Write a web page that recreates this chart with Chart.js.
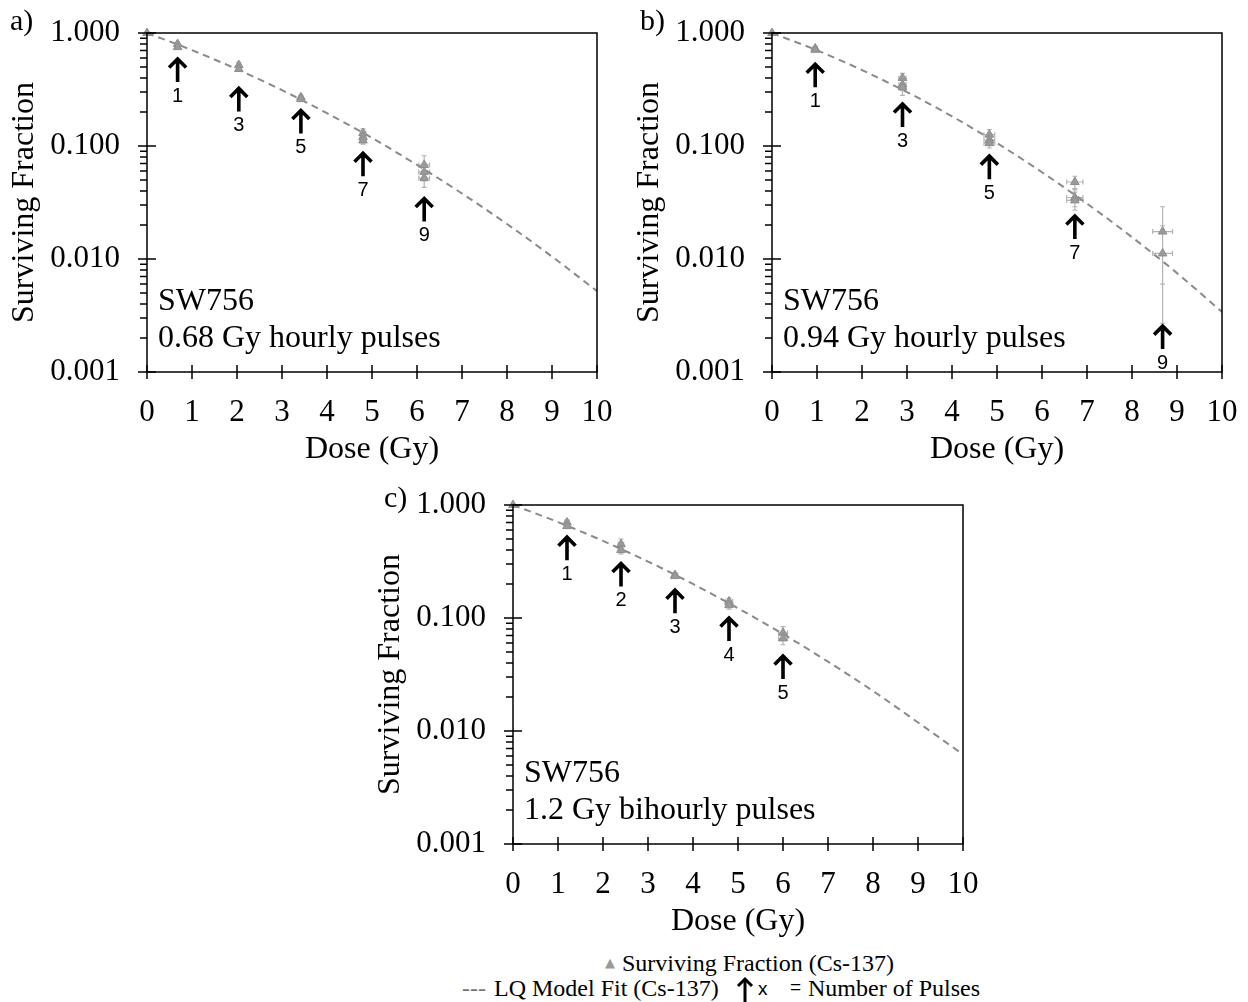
<!DOCTYPE html>
<html>
<head>
<meta charset="utf-8">
<script src="https://cdn.jsdelivr.net/npm/chart.js@4.4.1/dist/chart.umd.min.js"></script>
<style>
    body { margin: 0; background: #fff; width: 1248px; height: 1002px; position: relative; overflow: hidden;
           font-family: "Liberation Serif", "Times New Roman", serif; color: #000; }
    .panel { position: absolute; }
    .tag { position: absolute; font-size: 30px; line-height: 30px; }
    .lg { position: absolute; font-size: 24px; line-height: 28px; white-space: nowrap; }
</style>
</head>
<body>
<div class="panel" style="left:0;top:0"><canvas id="chartA" width="620" height="470"></canvas></div>
<div class="panel" style="left:625px;top:0"><canvas id="chartB" width="620" height="470"></canvas></div>
<div class="panel" style="left:366px;top:472px"><canvas id="chartC" width="620" height="470"></canvas></div>
<div class="tag" style="left:10px;top:5px">a)</div>
<div class="tag" style="left:640px;top:5px">b)</div>
<div class="tag" style="left:384px;top:482px">c)</div>

<!-- legend -->
<div class="lg" style="left:605px;top:949px;font-family:'DejaVu Sans';font-size:13px;color:#9a9a9a">▲</div>
<div class="lg" style="left:622px;top:949px">Surviving Fraction (Cs-137)</div>
<div class="lg" style="left:462px;top:974px;color:#777">---</div>
<div class="lg" style="left:494px;top:974px">LQ Model Fit (Cs-137)</div>
<svg class="lg" style="left:735px;top:976px" width="20" height="26" viewBox="0 0 20 26">
    <polyline points="3,10 10,3 17,10" fill="none" stroke="#000" stroke-width="3"/>
    <line x1="10" y1="3" x2="10" y2="26" stroke="#000" stroke-width="3"/>
</svg>
<div class="lg" style="left:758px;top:975px;font-family:'Liberation Sans';font-size:19px">x</div>
<div class="lg" style="left:790px;top:973px;font-family:'Liberation Sans';font-size:19px">=</div>
<div class="lg" style="left:808px;top:974px">Number of Pulses</div>

<script>
// axes
const xTicks = [0, 1, 2, 3, 4, 5, 6, 7, 8, 9, 10];
const yTickValues = [0.001, 0.01, 0.1, 1];
const yTickLabels = ['0.001', '0.010', '0.100', '1.000'];

// LQ model fit curves, read at whole Gy
const fitDose = [0, 1, 2, 3, 4, 5, 6, 7, 8, 9, 10];
const fitA = [1, 0.705, 0.478, 0.312, 0.195, 0.118, 0.068, 0.038, 0.0204, 0.0105, 0.0052];
const fitB = [1, 0.702, 0.470, 0.300, 0.183, 0.106, 0.0586, 0.0309, 0.0156, 0.0075, 0.0034];
const fitC = [1, 0.706, 0.481, 0.316, 0.200, 0.122, 0.0722, 0.0411, 0.0226, 0.0119, 0.0062];

// a) 0.68 Gy hourly
const doseA = [0, 0.68, 0.68, 2.04, 2.04, 3.42, 3.42, 4.8, 4.8, 4.8, 6.16, 6.16, 6.16];
const sfA = [1.0, 0.80, 0.75, 0.52, 0.48, 0.27, 0.26, 0.13, 0.12, 0.112, 0.068, 0.059, 0.052];
const sfErrA = [0, 0.03, 0.03, 0.03, 0.02, 0.01, 0.01, 0.012, 0.01, 0.008, 0.014, 0.01, 0.009];
const doseErrA = [0, 0.03, 0.03, 0.03, 0.03, 0.04, 0.04, 0.06, 0.06, 0.06, 0.12, 0.12, 0.12];
const pulseDoseA = [0.68, 2.04, 3.42, 4.8, 6.16];
const arrowTipA = [0.60, 0.33, 0.21, 0.088, 0.035];
const pulseLabelA = ['1', '3', '5', '7', '9'];

// b) 0.94 Gy hourly
const doseB = [0, 0.96, 0.96, 2.9, 2.9, 2.9, 4.83, 4.83, 4.83, 6.73, 6.73, 6.73, 8.68, 8.68];
const sfB = [1.0, 0.73, 0.71, 0.40, 0.35, 0.33, 0.126, 0.113, 0.106, 0.048, 0.035, 0.033, 0.0175, 0.0112];
const sfErrB = [0, 0.02, 0.02, 0.04, 0.04, 0.05, 0.014, 0.012, 0.01, 0.006, 0.006, 0.006, 0.0115, 0.0085];
const doseErrB = [0, 0.05, 0.05, 0.08, 0.08, 0.08, 0.12, 0.12, 0.12, 0.18, 0.18, 0.18, 0.22, 0.22];
const pulseDoseB = [0.96, 2.9, 4.83, 6.73, 8.68];
const arrowTipB = [0.54, 0.24, 0.083, 0.0245, 0.0026];
const pulseLabelB = ['1', '3', '5', '7', '9'];

// c) 1.2 Gy bihourly
const doseC = [0, 1.2, 1.2, 2.4, 2.4, 3.6, 3.6, 4.8, 4.8, 6.0, 6.0];
const sfC = [1.0, 0.70, 0.65, 0.45, 0.40, 0.24, 0.235, 0.14, 0.13, 0.074, 0.066];
const sfErrC = [0, 0.04, 0.03, 0.05, 0.03, 0.01, 0.01, 0.01, 0.01, 0.01, 0.008];
const doseErrC = [0, 0.05, 0.05, 0.06, 0.06, 0.06, 0.06, 0.08, 0.08, 0.1, 0.1];
const pulseDoseC = [1.2, 2.4, 3.6, 4.8, 6.0];
const arrowTipC = [0.53, 0.31, 0.18, 0.102, 0.047];
const pulseLabelC = ['1', '2', '3', '4', '5'];

const captionA = ['SW756', '0.68 Gy hourly pulses'];
const captionB = ['SW756', '0.94 Gy hourly pulses'];
const captionC = ['SW756', '1.2 Gy bihourly pulses'];

const SERIF = '"Liberation Serif", "Times New Roman", serif';
const SANS = '"Liberation Sans", Arial, sans-serif';
// plot area inside each canvas
const AREA = { left: 147, right: 597, top: 33, bottom: 372, w: 620, h: 470 };

// frame + ticks crossing the axes
const frameTicks = {
    id: 'frameTicks',
    afterDraw(chart) {
        const { ctx, chartArea: a, scales: { x, y } } = chart;
        ctx.save();
        ctx.strokeStyle = '#000';
        ctx.lineWidth = 1.5;
        ctx.strokeRect(a.left, a.top, a.right - a.left, a.bottom - a.top);
        ctx.beginPath();
        x.ticks.forEach(t => {
            const px = x.getPixelForValue(t.value);
            ctx.moveTo(px, a.bottom - 7); ctx.lineTo(px, a.bottom + 7);
        });
        y.ticks.forEach(t => {
            const py = y.getPixelForValue(t.value);
            const major = yTickValues.some(v => Math.abs(v - t.value) / v < 1e-6);
            ctx.moveTo(a.left - (major ? 9 : 7), py); ctx.lineTo(a.left + (major ? 9 : 0), py);
        });
        ctx.stroke();
        ctx.restore();
    }
};

// error bars for the scatter dataset
const errorBars = {
    id: 'errorBars',
    beforeDatasetsDraw(chart) {
        const { ctx, scales: { x, y } } = chart;
        chart.data.datasets.forEach(ds => {
            if (!ds.errY) return;
            ctx.save();
            ctx.strokeStyle = '#b4b4b4';
            ctx.lineWidth = 1.2;
            ctx.beginPath();
            ds.data.forEach((p, i) => {
                const px = x.getPixelForValue(p.x), py = y.getPixelForValue(p.y);
                const yHi = y.getPixelForValue(p.y + ds.errY[i]);
                const yLo = y.getPixelForValue(Math.max(p.y - ds.errY[i], 1e-4));
                const xLo = x.getPixelForValue(p.x - ds.errX[i]), xHi = x.getPixelForValue(p.x + ds.errX[i]);
                if (ds.errY[i] > 0) {
                    ctx.moveTo(px, yHi); ctx.lineTo(px, yLo);
                    ctx.moveTo(px - 2.5, yHi); ctx.lineTo(px + 2.5, yHi);
                    ctx.moveTo(px - 2.5, yLo); ctx.lineTo(px + 2.5, yLo);
                }
                if (ds.errX[i] > 0) {
                    ctx.moveTo(xLo, py); ctx.lineTo(xHi, py);
                    ctx.moveTo(xLo, py - 2.5); ctx.lineTo(xLo, py + 2.5);
                    ctx.moveTo(xHi, py - 2.5); ctx.lineTo(xHi, py + 2.5);
                }
            });
            ctx.stroke();
            ctx.restore();
        });
    }
};

// pulse arrows + caption text
const notes = {
    id: 'notes',
    afterDatasetsDraw(chart, args, opts) {
        const { ctx, chartArea: a, scales: { x, y } } = chart;
        ctx.save();
        ctx.strokeStyle = '#000';
        ctx.fillStyle = '#000';
        ctx.lineWidth = 3.6;
        ctx.lineCap = 'butt';
        ctx.textAlign = 'center';
        ctx.textBaseline = 'middle';
        ctx.font = '20px ' + SANS;
        opts.dose.forEach((d, i) => {
            const px = x.getPixelForValue(d), py = y.getPixelForValue(opts.tip[i]);
            ctx.beginPath();
            ctx.moveTo(px - 8.5, py + 9.5); ctx.lineTo(px, py + 1); ctx.lineTo(px + 8.5, py + 9.5);
            ctx.moveTo(px, py + 1); ctx.lineTo(px, py + 24);
            ctx.stroke();
            ctx.fillText(opts.labels[i], px, py + 38);
        });
        ctx.textAlign = 'left';
        ctx.font = '32px ' + SERIF;
        ctx.fillText(opts.caption[0], a.left + 11, a.bottom - 70);
        ctx.fillText(opts.caption[1], a.left + 11, a.bottom - 33);
        ctx.restore();
    }
};

function minorTicks() {
    const out = [];
    for (let i = 0; i < yTickValues.length - 1; i++) {
        for (let k = 1; k < 10; k++) out.push({ value: k * yTickValues[i] });
    }
    out.push({ value: yTickValues[yTickValues.length - 1] });
    return out;
}

function makeChart(id, dose, sf, sfErr, doseErr, fit, pulseDose, arrowTip, pulseLabel, caption) {
    const chart = new Chart(document.getElementById(id), {
        type: 'scatter',
        data: {
            datasets: [{
                label: 'Surviving Fraction (Cs-137)',
                data: dose.map((d, i) => ({ x: d, y: sf[i] })),
                errY: sfErr,
                errX: doseErr,
                pointStyle: 'triangle',
                pointRadius: 5,
                backgroundColor: '#9a9a9a',
                borderColor: '#8e8e8e',
                borderWidth: 1,
                clip: false
            }, {
                type: 'line',
                label: 'LQ Model Fit (Cs-137)',
                data: fitDose.map((d, i) => ({ x: d, y: fit[i] })),
                borderColor: '#8a8a8a',
                borderWidth: 2,
                borderDash: [7, 5],
                pointRadius: 0,
                cubicInterpolationMode: 'monotone',
                fill: false
            }]
        },
        options: {
            responsive: false,
            animation: false,
            events: [],
            layout: { padding: { top: AREA.top, right: AREA.w - AREA.right, left: 0, bottom: 0 } },
            plugins: {
                legend: { display: false },
                tooltip: { enabled: false },
                notes: { dose: pulseDose, tip: arrowTip, labels: pulseLabel, caption: caption }
            },
            scales: {
                x: {
                    type: 'linear', min: 0, max: 10,
                    afterBuildTicks: s => { s.ticks = xTicks.map(v => ({ value: v })); },
                    afterFit: s => { s.height = AREA.h - AREA.bottom; s.paddingLeft = 0; s.paddingRight = 0; },
                    grid: { display: false, drawTicks: false },
                    border: { display: false },
                    ticks: { color: '#000', font: { family: SERIF, size: 31 }, padding: 22, maxRotation: 0, autoSkip: false },
                    title: { display: true, text: 'Dose (Gy)', color: '#000', font: { family: SERIF, size: 32 }, padding: { top: 0, bottom: 1 } }
                },
                y: {
                    type: 'logarithmic', min: 0.001, max: 1,
                    afterBuildTicks: s => { s.ticks = minorTicks(); },
                    afterFit: s => { s.width = AREA.left; s.paddingTop = 0; s.paddingBottom = 0; },
                    grid: { display: false, drawTicks: false },
                    border: { display: false },
                    ticks: {
                        color: '#000', font: { family: SERIF, size: 31 }, padding: 27, autoSkip: false,
                        callback: v => {
                            const i = yTickValues.findIndex(t => Math.abs(t - v) / t < 1e-6);
                            return i >= 0 ? yTickLabels[i] : '';
                        }
                    },
                    title: { display: true, text: 'Surviving Fraction', color: '#000', font: { family: SERIF, size: 32 }, padding: { top: 5, bottom: 0 } }
                }
            }
        },
        plugins: [errorBars, frameTicks, notes]
    });
    // nudge layout padding so the plot box lands where the reference has it
    for (let k = 0; k < 3; k++) {
        const a = chart.chartArea, p = chart.options.layout.padding;
        const dt = a.top - AREA.top, dr = AREA.right - a.right;
        if (Math.abs(dt) < 0.5 && Math.abs(dr) < 0.5) break;
        p.top -= dt;
        p.right -= dr;
        chart.update();
    }
    return chart;
}

makeChart('chartA', doseA, sfA, sfErrA, doseErrA, fitA, pulseDoseA, arrowTipA, pulseLabelA, captionA);
makeChart('chartB', doseB, sfB, sfErrB, doseErrB, fitB, pulseDoseB, arrowTipB, pulseLabelB, captionB);
makeChart('chartC', doseC, sfC, sfErrC, doseErrC, fitC, pulseDoseC, arrowTipC, pulseLabelC, captionC);
</script>
</body>
</html>
